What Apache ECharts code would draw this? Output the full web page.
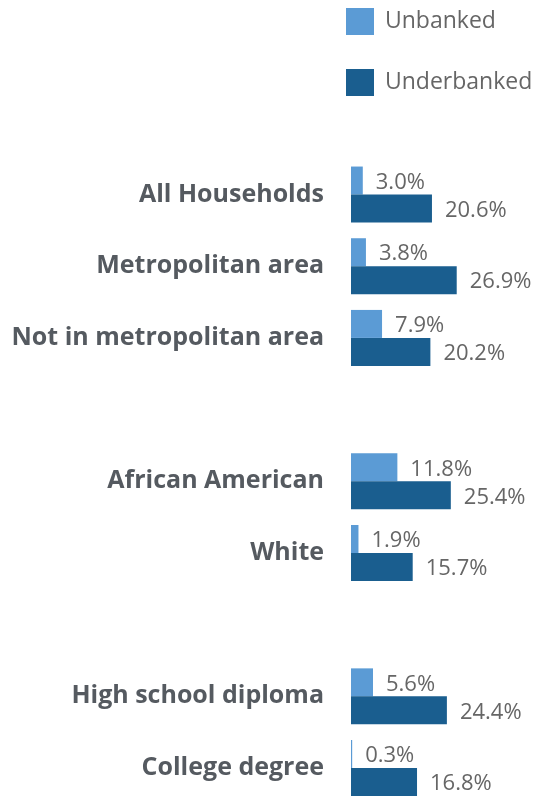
<!DOCTYPE html>
<html>
<head>
<meta charset="utf-8">
<script src="https://cdn.jsdelivr.net/npm/echarts@6/dist/echarts.min.js"></script>
<style>
html,body{margin:0;padding:0;background:#fff;}
#c{width:537px;height:796px;}
</style>
</head>
<body>
<div id="c"></div>
<script>
const categories = ['All Households', 'Metropolitan area', 'Not in metropolitan area', '', 'African American', 'White', '', 'High school diploma', 'College degree'];
const unbanked = [3.0, 3.8, 7.9, null, 11.8, 1.9, null, 5.6, 0.3];
const underbanked = [20.6, 26.9, 20.2, null, 25.4, 15.7, null, 24.4, 16.8];
const seriesNames = ['Unbanked', 'Underbanked'];

const chart = echarts.init(document.getElementById('c'));
const labelStyle = {
  show: true,
  position: 'right',
  distance: 13,
  offset: [0, 2],
  color: '#666',
  fontFamily: 'Open Sans',
  fontSize: 22,
  formatter: p => p.value == null ? '' : p.value.toFixed(1) + '%'
};
chart.setOption({
  animation: false,
  legend: {
    orient: 'vertical',
    left: 341,
    top: 3,
    itemWidth: 28,
    itemHeight: 27,
    itemGap: 34,
    itemStyle: {borderWidth: 0},
    icon: 'rect',
    textStyle: {color: '#666', fontFamily: 'Open Sans', fontSize: 23, padding: [0,0,0,6]},
    data: seriesNames
  },
  grid: {left: 351, top: 158.7, width: 157.2, height: 645.2, outerBoundsMode: 'none', containLabel: false},
  xAxis: {type: 'value', min: 0, max: 40, show: false},
  yAxis: {
    type: 'category',
    inverse: true,
    data: categories,
    axisLine: {show: false},
    axisTick: {show: false},
    axisLabel: {color: '#555a60', fontFamily: 'Open Sans', fontWeight: 'bold', fontSize: 25, margin: 27}
  },
  series: [
    {name: seriesNames[0], type: 'bar', data: unbanked, barWidth: 28, barGap: '0%', itemStyle: {color: '#5b9bd5'}, label: labelStyle},
    {name: seriesNames[1], type: 'bar', data: underbanked, barWidth: 28, barGap: '0%', itemStyle: {color: '#1a5e8f'}, label: labelStyle}
  ]
});
</script>
</body>
</html>
